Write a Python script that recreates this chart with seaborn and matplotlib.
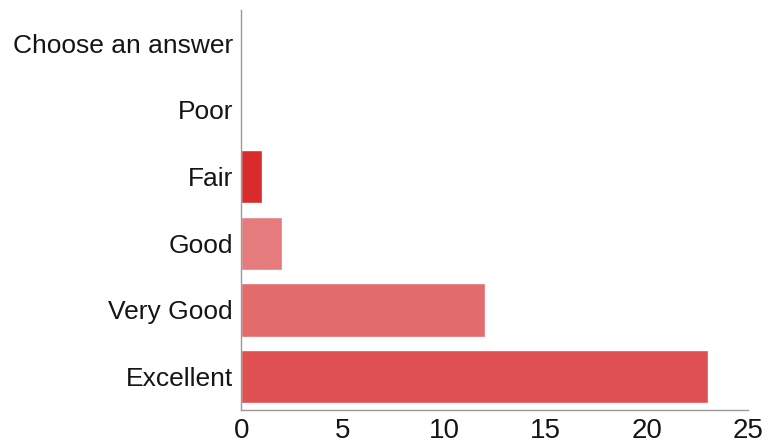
import matplotlib
matplotlib.use("Agg")
import matplotlib.pyplot as plt
import seaborn as sns
import pandas as pd

antwoorden = ["Choose an answer", "Poor", "Fair", "Good", "Very Good", "Excellent"]
aantal = [0, 0, 1, 2, 12, 23]
kleuren = ["#dd5050", "#dd5050", "#d92a2c", "#e67b7d", "#e26b6c", "#de5051"]
xticks = [0, 5, 10, 15, 20, 25]

sns.set_style("white")
plt.rcParams['font.family'] = ['Liberation Sans', 'DejaVu Sans']

df = pd.DataFrame({"antwoord": antwoorden, "aantal": aantal})

fig = plt.figure(figsize=(7.81, 4.48), dpi=100)
ax = fig.add_axes([0.309, 0.085, 0.649, 0.893])
sns.barplot(data=df, x="aantal", y="antwoord", hue="antwoord", palette=kleuren,
            order=antwoorden, legend=False, width=0.8, saturation=1, ax=ax)

ax.set_xlim(0, 25)
ax.set_xticks(xticks)
ax.set_xlabel("")
ax.set_ylabel("")
sns.despine(ax=ax)
for s in ["left", "bottom"]:
    ax.spines[s].set_color("#999999")
    ax.spines[s].set_linewidth(1)
ax.tick_params(axis="x", labelsize=20, length=5, color="#999999", labelcolor="#151515",
               direction="inout", pad=3)
ax.tick_params(axis="y", labelsize=19, length=4, color="#999999", labelcolor="#151515", pad=2)

fig.savefig("out.png", dpi=100)
